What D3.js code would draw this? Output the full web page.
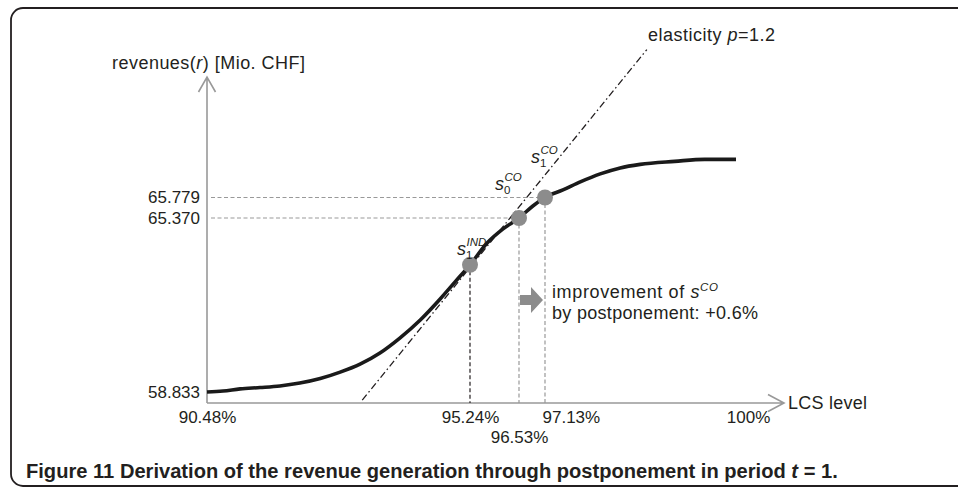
<!DOCTYPE html>
<html>
<head>
<meta charset="utf-8">
<script src="https://cdn.jsdelivr.net/npm/d3@7"></script>
<style>
body { margin: 0; background: #fff; }
svg { display: block; font-family: "Liberation Sans", Arial, sans-serif; }
</style>
</head>
<body>
<div id="chart"></div>
<script>
// tick values on the two axes
const lcsTicks = [90.48, 95.24, 96.53, 97.13, 100];
const revTicks = [58.833, 65.370, 65.779];

// revenue curve r over the LCS level
const curveLcs = [90.48, 90.77, 91.08, 91.44, 91.80, 92.16, 92.53, 92.89, 93.25, 93.61, 93.97, 94.34, 94.70, 94.97,
                  95.24, 95.69, 96.11, 96.53, 96.85, 97.13, 97.40, 97.66, 97.96, 98.26, 98.56, 99.08, 99.53, 100];
const curveRev = [58.833, 58.87, 58.95, 59.00, 59.06, 59.17, 59.34, 59.58, 59.88, 60.30, 60.86, 61.54, 62.33, 62.97,
                  63.61, 64.43, 64.96, 65.370, 65.61, 65.779, 65.93, 66.09, 66.25, 66.37, 66.44, 66.50, 66.54, 66.54];

// marked solutions s_1^IND, s_0^CO, s_1^CO
const pointNames = ["IND", "CO", "CO"];
const pointSubs = ["1", "0", "1"];
const pointLcs = [95.24, 96.53, 97.13];
const pointRev = [63.61, 65.370, 65.779];

// elasticity line p = 1.2
const elastLcs = [93.29, 98.66];
const elastRev = [58.53, 68.73];

const W = 958, H = 488;
const ink = "#231f20", grey = "#999", dotGrey = "#8c8c8c";
const fs = 17;

const svg = d3.select("#chart").append("svg")
    .attr("width", W)
    .attr("height", H);

// stretch a label to the width it has in the figure (loose letter spacing)
function fitWidth(t, w) {
    t.attr("textLength", w).attr("lengthAdjust", "spacing");
}

// frame round the figure
svg.append("rect")
    .attr("x", 11).attr("y", 8)
    .attr("width", 1000).attr("height", 478)
    .attr("rx", 12)
    .attr("fill", "none")
    .attr("stroke", ink)
    .attr("stroke-width", 1.8);

// schematic (piecewise) scales, as in the figure
let x = d3.scaleLinear().domain(lcsTicks).range([207, 470, 519, 545, 736]);
let y = d3.scaleLinear().domain(revTicks).range([392, 218, 197.5]);

const x0 = 207, y0 = 403, xEnd = 784, yTop = 77;

// axis lines with open arrow heads
svg.append("path")
    .attr("d", `M${x0},${y0}V${yTop}M${x0 - 8.5},${yTop + 15}L${x0},${yTop}L${x0 + 8.5},${yTop + 15}`)
    .attr("fill", "none").attr("stroke", grey).attr("stroke-width", 1.6);
svg.append("path")
    .attr("d", `M${x0},${y0}H${xEnd}M${xEnd - 16},${y0 - 8.5}L${xEnd},${y0}L${xEnd - 16},${y0 + 8.5}`)
    .attr("fill", "none").attr("stroke", grey).attr("stroke-width", 1.6);

// x axis labels
let gx = svg.append("g")
    .attr("transform", "translate(0," + y0 + ")")
    .call(d3.axisBottom(x).tickValues(lcsTicks).tickSize(0).tickPadding(8).tickFormat(d => d + "%"));
gx.select(".domain").remove();
gx.attr("font-size", null).attr("font-family", null);
gx.selectAll("text")
    .attr("font-size", fs)
    .attr("fill", ink)
    .each(function(d) {
        let t = d3.select(this);
        if (d === 96.53) t.attr("y", 28);
        if (d === 97.13) t.attr("text-anchor", "start").attr("x", -3);
        if (d === 100) t.attr("x", 12);
    });

// y axis labels
let gy = svg.append("g")
    .attr("transform", "translate(" + x0 + ",0)")
    .call(d3.axisLeft(y).tickValues(revTicks).tickSize(0).tickPadding(7).tickFormat(d3.format(".3f")));
gy.select(".domain").remove();
gy.attr("font-size", null).attr("font-family", null);
gy.selectAll("text").attr("font-size", fs).attr("fill", ink);

// axis titles
let yt = svg.append("text").attr("x", 112).attr("y", 69).attr("font-size", 18).attr("fill", ink);
yt.append("tspan").text("revenues(");
yt.append("tspan").attr("font-style", "italic").text("r");
yt.append("tspan").text(") [Mio. CHF]");
fitWidth(yt, 193);

let lt = svg.append("text").attr("x", xEnd + 4).attr("y", y0 + 6)
    .attr("font-size", 18).attr("fill", ink).text("LCS level");
fitWidth(lt, 79);

// dashed guides
pointLcs.forEach((v, i) => {
    svg.append("line")
        .attr("x1", x(v)).attr("x2", x(v))
        .attr("y1", y(pointRev[i])).attr("y2", y0)
        .attr("stroke", i === 0 ? ink : grey)
        .attr("stroke-width", 1.2)
        .attr("stroke-dasharray", "4,2.5");
    if (i > 0) {
        svg.append("line")
            .attr("x1", x0 + 4).attr("x2", x(v))
            .attr("y1", y(pointRev[i])).attr("y2", y(pointRev[i]))
            .attr("stroke", grey)
            .attr("stroke-width", 1.2)
            .attr("stroke-dasharray", "4,2.5");
    }
});

// elasticity line
svg.append("line")
    .attr("x1", x(elastLcs[0])).attr("y1", y(elastRev[0]))
    .attr("x2", x(elastLcs[1])).attr("y2", y(elastRev[1]))
    .attr("stroke", ink)
    .attr("stroke-width", 1.3)
    .attr("stroke-dasharray", "7,3,1.5,3");

let et = svg.append("text").attr("x", 648).attr("y", 41).attr("font-size", 18).attr("fill", ink);
et.append("tspan").text("elasticity ");
et.append("tspan").attr("font-style", "italic").text("p");
et.append("tspan").text("=1.2");
fitWidth(et, 127);

// revenue curve
let curve = curveLcs.map((v, i) => [v, curveRev[i]]);
svg.append("path")
    .datum(curve)
    .attr("d", d3.line().curve(d3.curveMonotoneX).x(d => x(d[0])).y(d => y(d[1])))
    .attr("fill", "none")
    .attr("stroke", "#1a1a1a")
    .attr("stroke-width", 3.6)
    .attr("stroke-linejoin", "round");

// points
svg.selectAll("circle.pt")
    .data(pointLcs)
    .enter().append("circle")
    .attr("class", "pt")
    .attr("cx", d => x(d))
    .attr("cy", (d, i) => y(pointRev[i]))
    .attr("r", 8)
    .attr("fill", dotGrey);

// point labels: s with stacked sub/superscript
let labelOff = [[-13, -10], [-24, -28], [-14, -35]];
pointLcs.forEach((v, i) => {
    let px = x(v) + labelOff[i][0], py = y(pointRev[i]) + labelOff[i][1];
    svg.append("text").attr("x", px).attr("y", py)
        .attr("font-size", 18).attr("font-style", "italic").attr("fill", ink).text("s");
    svg.append("text").attr("x", px + 9).attr("y", py + 4)
        .attr("font-size", 11.5).attr("fill", ink).text(pointSubs[i]);
    svg.append("text").attr("x", px + 9.5).attr("y", py - 9)
        .attr("font-size", 11.5).attr("font-style", "italic").attr("fill", ink).text(pointNames[i]);
});

// improvement arrow between s_0^CO and s_1^CO
let ax1 = x(pointLcs[1]) + 1, ax2 = x(pointLcs[2]) - 2, ay = 300;
svg.append("path")
    .attr("d", `M${ax1},${ay - 5}H${ax2 - 12}V${ay - 13}L${ax2},${ay}L${ax2 - 12},${ay + 13}V${ay + 5}H${ax1}Z`)
    .attr("fill", dotGrey);

let it = svg.append("text").attr("x", 552).attr("y", 298).attr("font-size", 18).attr("fill", ink);
it.append("tspan").text("improvement of ");
it.append("tspan").attr("font-style", "italic").text("s");
it.append("tspan").attr("font-style", "italic").attr("font-size", 11.5).attr("dy", -7).text("CO");
fitWidth(it, 166);
let it2 = svg.append("text").attr("x", 552).attr("y", 319).attr("font-size", 18).attr("fill", ink)
    .text("by postponement: +0.6%");
fitWidth(it2, 206);

// caption
let cap = svg.append("text").attr("x", 26).attr("y", 478)
    .attr("font-size", 18).attr("font-weight", "bold").attr("fill", ink);
cap.append("tspan").text("Figure 11 Derivation of the revenue generation through postponement in period ");
cap.append("tspan").attr("font-style", "italic").text("t");
cap.append("tspan").text(" = 1.");
let capLen = cap.node().getComputedTextLength();
cap.attr("font-size", 18 * 812 / capLen);
</script>
</body>
</html>
